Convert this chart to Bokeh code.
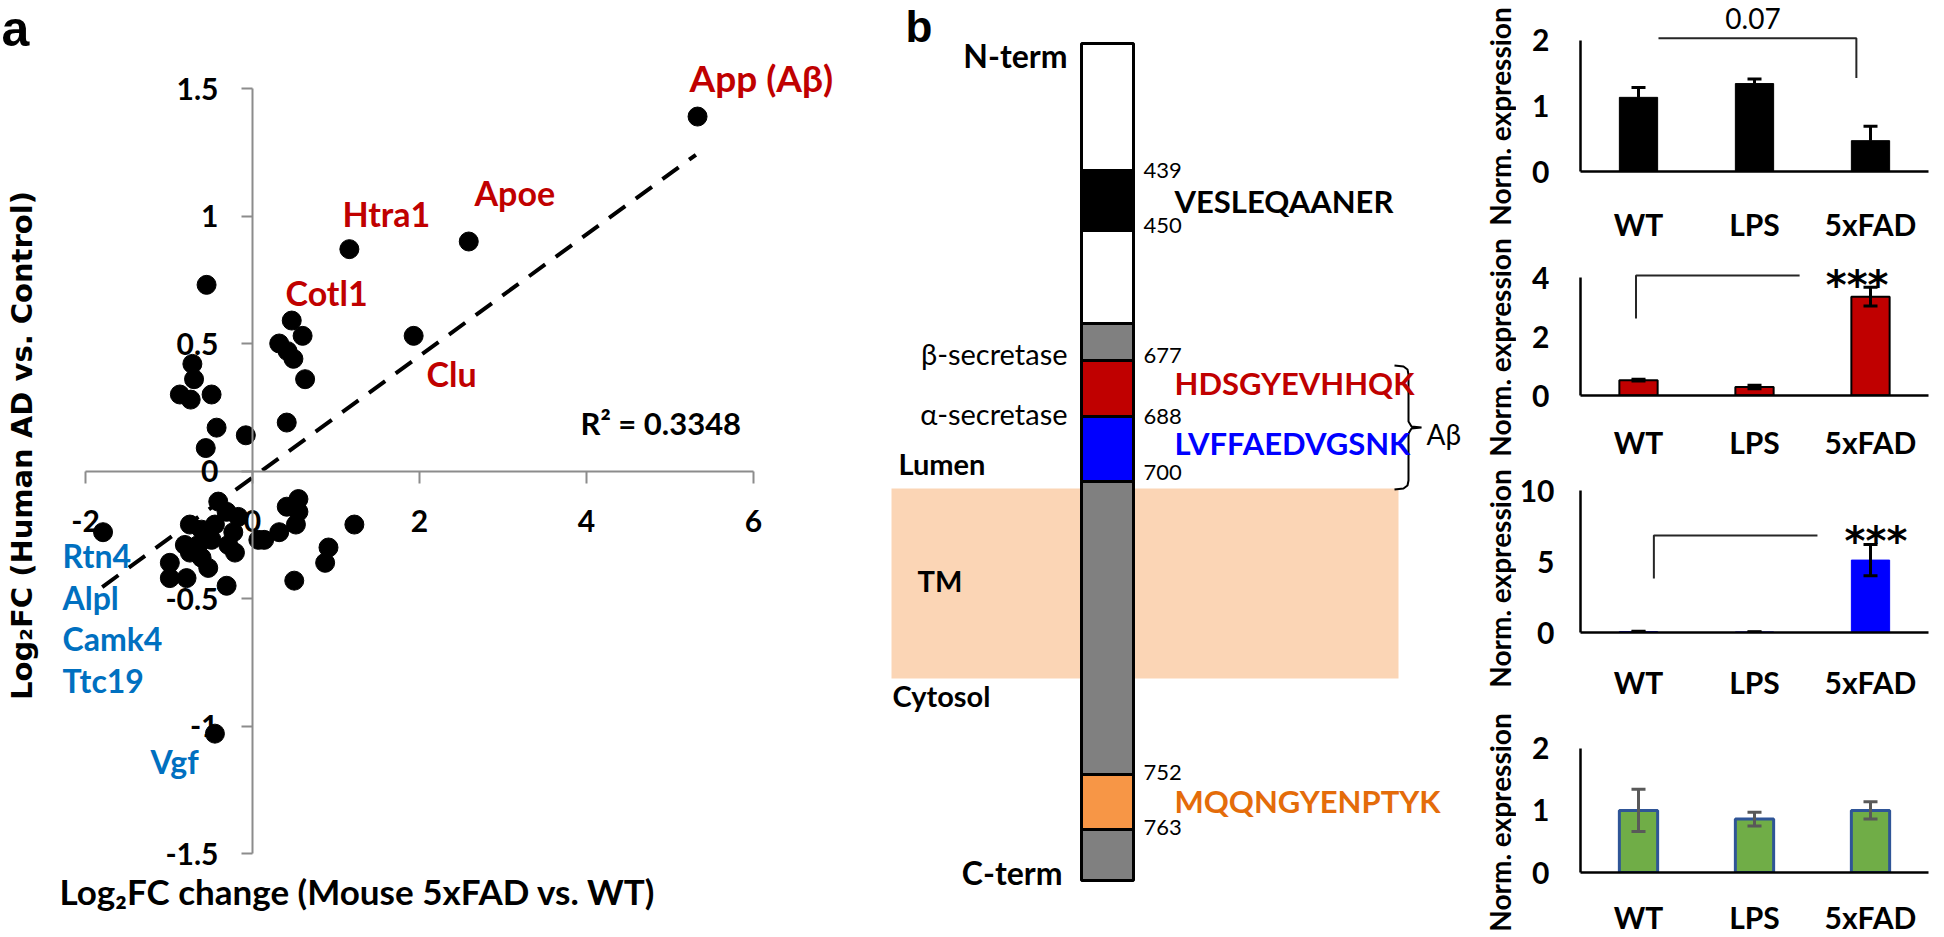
import math
from bokeh.plotting import figure
from bokeh.models import (Range1d, FactorRange, FixedTicker, NumeralTickFormatter,
                          Label, Whisker, ColumnDataSource, TeeHead)
from bokeh.layouts import row, column
from bokeh.embed import file_html
from bokeh.resources import INLINE

# ---------------- data : panel a ----------------
mouse_log2fc = [5.33, 2.59, 1.16, -0.55, 0.47, 0.60, 0.32, 0.42, 0.49, 0.63, 1.93,
                -0.72, -0.70, -0.87, -0.74, -0.49, 0.41, -0.43, -0.08, -0.56,
                -1.79, -0.41, -0.31, -0.17, -0.75, -0.61, -0.45, -0.23, -0.81, -0.65,
                -0.49, -0.29, -0.21, -0.75, -0.61, -0.53, -0.99, -0.99, -0.79, -0.31,
                0.07, 0.55, 0.41, 0.55, 1.22, 0.32, 0.52, 0.14, 0.91, 0.87, 0.50, -0.45]
human_log2fc = [1.39, 0.90, 0.87, 0.73, 0.59, 0.53, 0.50, 0.47, 0.44, 0.36, 0.53,
                0.42, 0.36, 0.30, 0.28, 0.30, 0.19, 0.17, 0.14, 0.09,
                -0.24, -0.12, -0.16, -0.18, -0.21, -0.23, -0.21, -0.24, -0.29, -0.29,
                -0.27, -0.29, -0.32, -0.32, -0.34, -0.38, -0.36, -0.42, -0.42, -0.45,
                -0.27, -0.11, -0.14, -0.16, -0.21, -0.24, -0.21, -0.27, -0.30, -0.36, -0.43, -1.03]
trend_x = [-1.8, 5.31]
trend_y = [-0.455, 1.24]
a_x_ticks = [-2, 0, 2, 4, 6]
a_y_ticks = [-1.5, -1, -0.5, 0, 0.5, 1, 1.5]
up_genes = ["App (Aβ)", "Apoe", "Htra1", "Cotl1", "Clu"]
down_genes = ["Rtn4", "Alpl", "Camk4", "Ttc19", "Vgf"]
r_squared = "0.3348"

# ---------------- data : panel b (APP schematic) ----------------
seg_top = [43, 170, 230, 323, 360, 416, 481, 774, 829]
seg_bottom = [170, 230, 323, 360, 416, 481, 774, 829, 880]
seg_colors = ["white", "black", "white", "#808080", "#C00000", "#0000FF", "#808080", "#F79646", "#808080"]
peptides = ["VESLEQAANER", "HDSGYEVHHQK", "LVFFAEDVGSNK", "MQQNGYENPTYK"]
peptide_colors = ["black", "#C00000", "#0000FF", "#E46C0A"]
residues = ["439", "450", "677", "688", "700", "752", "763"]

# ---------------- data : bar charts ----------------
groups = ["WT", "LPS", "5xFAD"]
total_vals = [1.13, 1.34, 0.47]
total_err = [0.15, 0.07, 0.22]
abeta_n_vals = [0.52, 0.29, 3.35]
abeta_n_err = [0.03, 0.06, 0.32]
abeta_c_vals = [0.06, 0.04, 5.1]
abeta_c_err = [0.03, 0.02, 1.1]
cterm_vals = [1.0, 0.86, 1.0]
cterm_err = [0.34, 0.11, 0.14]
ticks_1 = [0, 1, 2]
ticks_2 = [0, 2, 4]
ticks_3 = [0, 5, 10]
ticks_4 = [0, 1, 2]

FONT = "Lato"
H = 937

# =============== panel a ===============
AW = 888
AXS, AYS = 83.5, 255.0
AX0 = -2 - 85 / AXS
AX1 = AX0 + AW / AXS
AY1 = 1.5 + 88 / AYS
AY0 = AY1 - H / AYS


def pa_xy(wx, wy):
    return AX0 + wx / AXS, AY1 - wy / AYS


pa = figure(width=AW, height=H, x_range=Range1d(AX0, AX1), y_range=Range1d(AY0, AY1),
            output_backend="svg", toolbar_location=None, min_border=0,
            outline_line_color=None)
pa.grid.visible = False
xa = pa.xaxis[0]
ya = pa.yaxis[0]
xa.ticker = FixedTicker(ticks=a_x_ticks)
ya.ticker = FixedTicker(ticks=a_y_ticks)
xa.bounds = (min(a_x_ticks), max(a_x_ticks))
ya.bounds = (min(a_y_ticks), max(a_y_ticks))
for ax in (xa, ya):
    ax.fixed_location = 0
    ax.formatter = NumeralTickFormatter(format="0.[0]")
    ax.axis_line_color = "#8c8c8c"
    ax.axis_line_width = 2
    ax.major_tick_line_color = "#8c8c8c"
    ax.major_tick_line_width = 2
    ax.major_tick_in = 0
    ax.minor_tick_line_color = None
    ax.major_label_text_font = FONT
    ax.major_label_text_font_style = "bold"
    ax.major_label_text_font_size = "30px"
    ax.major_label_text_color = "black"
xa.major_tick_out = 12
xa.major_label_standoff = 27
ya.major_tick_out = 11
ya.major_label_standoff = 23

pa.line(trend_x, trend_y, line_dash="20 13", line_width=4, line_color="black")
pa.scatter(mouse_log2fc, human_log2fc, size=19, color="black")


def add_label(p, x, y, text, size, color="black", bold=True, font=FONT, align="left",
              baseline="middle", angle=0.0):
    p.add_layout(Label(x=x, y=y, text=text, text_font=font, text_font_size=size,
                       text_font_style="bold" if bold else "normal", text_color=color,
                       text_align=align, text_baseline=baseline, angle=angle))


up_pos = [(689, 77), (474, 192), (342, 213), (285, 292), (426, 373)]
up_size = ["37px", "34px", "34px", "34px", "34px"]
for g, (wx, wy), sz in zip(up_genes, up_pos, up_size):
    x, y = pa_xy(wx, wy)
    add_label(pa, x, y, g, sz, "#C00000")
down_pos = [(62, 555), (62, 597), (62, 638), (62, 680), (150, 761)]
for g, (wx, wy) in zip(down_genes, down_pos):
    x, y = pa_xy(wx, wy)
    add_label(pa, x, y, g, "32px", "#0070C0")
x, y = pa_xy(580, 422)
add_label(pa, x, y, "R² = " + r_squared, "31px")
x, y = pa_xy(59, 890)
add_label(pa, x, y, "Log₂FC change (Mouse 5xFAD vs. WT)", "35px")
x, y = pa_xy(21, 445)
add_label(pa, x, y, "Log₂FC (Human AD vs. Control)", "29px", font="DejaVu Sans",
          align="center", angle=math.pi / 2)
x, y = pa_xy(1, 28)
add_label(pa, x, y, "a", "50px", font="Liberation Sans")

# =============== panel b ===============
BX = 888
BW = 588
pb = figure(width=BW, height=H, x_range=Range1d(BX, BX + BW), y_range=Range1d(H, 0),
            output_backend="svg", toolbar_location=None, min_border=0,
            outline_line_color=None, x_axis_location=None, y_axis_location=None)
pb.grid.visible = False
pb.quad(left=[891], right=[1398], top=[488], bottom=[678], fill_color="#FBD5B5", line_color=None)
pb.quad(left=[1081] * len(seg_top), right=[1133] * len(seg_top), top=seg_top, bottom=seg_bottom,
        fill_color=seg_colors, line_color="black", line_width=3)

for r, yy in zip(residues, [170, 225, 355, 416, 472, 772, 827]):
    add_label(pb, 1143, yy, r, "22px", bold=False)
for pep, col, yy in zip(peptides, peptide_colors, [200, 382, 442, 800]):
    add_label(pb, 1174, yy, pep, "31px", col)
add_label(pb, 1067, 55, "N-term", "32px", align="right")
add_label(pb, 1067, 353, "β-secretase", "29px", bold=False, align="right")
add_label(pb, 1067, 413, "α-secretase", "29px", bold=False, align="right")
add_label(pb, 898, 463, "Lumen", "29px")
add_label(pb, 917, 580, "TM", "29px")
add_label(pb, 892, 695, "Cytosol", "29px")
add_label(pb, 1062, 872, "C-term", "32px", align="right")
add_label(pb, 905, 26, "b", "44px", font="Liberation Sans")
brace_x = [1394, 1403, 1407, 1408, 1408, 1411, 1421, 1411, 1408, 1408, 1407, 1403, 1394]
brace_y = [365, 366, 369, 374, 421, 426, 427, 428, 433, 480, 485, 488, 489]
pb.line(brace_x, brace_y, line_color="black", line_width=2)
add_label(pb, 1426, 433, "Aβ", "28px", bold=False)

# =============== y titles of the bar charts ===============
TX = 1476
TW = 40
ft = figure(width=TW, height=H, x_range=Range1d(TX, TX + TW), y_range=Range1d(H, 0),
            output_backend="svg", toolbar_location=None, min_border=0,
            outline_line_color=None, x_axis_location=None, y_axis_location=None)
ft.grid.visible = False
for ty in [116, 347, 578, 822]:
    add_label(ft, 1499, ty, "Norm. expression", "28px", align="center", angle=math.pi / 2)

# =============== bar charts ===============
CLEFT = TX + TW
CW = 1944 - CLEFT
FR_RIGHT = 1928


def bar_panel(vals, errs, ticks, geom, fill, outline, outline_w, err_color, both=True,
              label_standoff=30, y_standoff=31):
    fig_top, fig_h, axis_y, top_y, frame_left = geom
    top_tick = ticks[-1]
    ppu = (axis_y - top_y) / top_tick
    y_end = (axis_y - fig_top) / ppu
    p = figure(width=CW, height=fig_h, x_range=FactorRange(*groups), y_range=Range1d(0, y_end),
               output_backend="svg", toolbar_location=None,
               min_border_left=frame_left - CLEFT, min_border_right=CLEFT + CW - FR_RIGHT,
               min_border_top=0, min_border_bottom=fig_top + fig_h - axis_y,
               outline_line_color=None)
    p.grid.visible = False
    p.vbar(x=groups, top=vals, width=0.33, fill_color=fill,
           line_color=outline, line_width=outline_w)
    lower = [v - e for v, e in zip(vals, errs)] if both else list(vals)
    src = ColumnDataSource(dict(x=groups, upper=[v + e for v, e in zip(vals, errs)], lower=lower))
    w = Whisker(base="x", upper="upper", lower="lower", source=src, line_color=err_color,
                line_width=3, level="overlay",
                upper_head=TeeHead(size=14, line_width=3, line_color=err_color),
                lower_head=TeeHead(size=14, line_width=3, line_color=err_color) if both else None)
    p.add_layout(w)
    yax = p.yaxis[0]
    yax.ticker = FixedTicker(ticks=ticks)
    yax.bounds = (0, top_tick)
    xax = p.xaxis[0]
    for ax in (xax, yax):
        ax.axis_line_color = "black"
        ax.axis_line_width = 2.5
        ax.major_tick_line_color = None
        ax.major_tick_out = 0
        ax.major_tick_in = 0
        ax.minor_tick_line_color = None
        ax.minor_tick_out = 0
        ax.major_label_text_font = FONT
        ax.major_label_text_font_style = "bold"
        ax.major_label_text_font_size = "30px"
        ax.major_label_text_color = "black"
    yax.major_label_standoff = y_standoff
    xax.major_label_standoff = label_standoff

    def sx(wx):
        return (wx - frame_left) / ((FR_RIGHT - frame_left) / 3.0)

    def sy(wy):
        return (axis_y - wy) / ppu

    return p, sx, sy


g1 = (0, 244, 172, 40, 1571)
g2 = (244, 226, 395, 277, 1577)
g3 = (470, 240, 632, 490, 1577)
g4 = (710, 227, 873, 748, 1577)

c1, sx1, sy1 = bar_panel(total_vals, total_err, ticks_1, g1, "black", "black", 1, "black",
                         both=False, label_standoff=34)
c1.line([sx1(1651), sx1(1854), sx1(1854)], [sy1(38), sy1(38), sy1(78)],
        line_color="#262626", line_width=2)
add_label(c1, sx1(1748), sy1(18), "0.07", "28px", bold=False, align="center")

c2, sx2, sy2 = bar_panel(abeta_n_vals, abeta_n_err, ticks_2, g2, "#C00000", "black", 2, "black",
                         label_standoff=28)
c2.line([sx2(1633), sx2(1633), sx2(1798)], [sy2(318), sy2(275), sy2(275)],
        line_color="#262626", line_width=2)
add_label(c2, sx2(1856), sy2(284), "***", "40px", font="DejaVu Sans", align="center")

c3, sx3, sy3 = bar_panel(abeta_c_vals, abeta_c_err, ticks_3, g3, "#0000FF", "#0000FF", 1, "black",
                         label_standoff=31, y_standoff=26)
c3.line([sx3(1651), sx3(1651), sx3(1816)], [sy3(578), sy3(535), sy3(535)],
        line_color="#262626", line_width=2)
add_label(c3, sx3(1875), sy3(540), "***", "40px", font="DejaVu Sans", align="center")

c4, sx4, sy4 = bar_panel(cterm_vals, cterm_err, ticks_4, g4, "#70AD47", "#2F5597", 3, "#595959",
                         label_standoff=26)

layout = row(pa, pb, ft, column(c1, c2, c3, c4))
open("out.html", "w").write(file_html(layout, INLINE))
